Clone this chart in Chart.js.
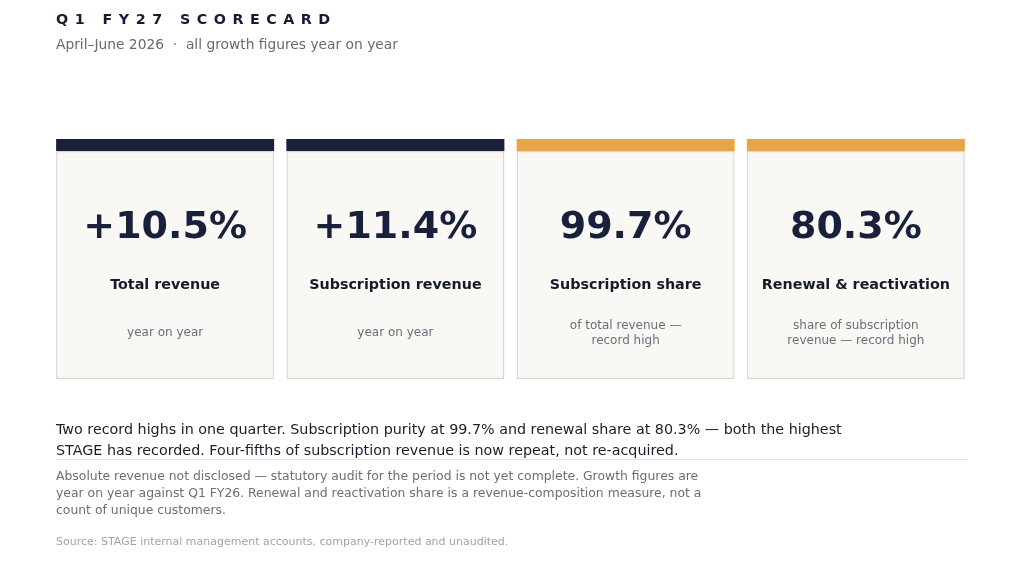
<!DOCTYPE html>
<html>
<head>
<meta charset="utf-8">
<script src="https://cdn.jsdelivr.net/npm/chart.js@4.4.1/dist/chart.umd.min.js"></script>
<style>
  html, body { margin: 0; padding: 0; background: #ffffff; }
  body { width: 1024px; height: 570px; position: relative; overflow: hidden; font-family: "DejaVu Sans", sans-serif; }
  #wrap { position: absolute; left: 0; top: 0; width: 1024px; height: 570px; }
  .abs { position: absolute; left: 56px; white-space: nowrap; }
  #title { top: 11px; font-size: 14.3px; font-weight: bold; letter-spacing: 6.5px; color: #161c33; }
  #subtitle { top: 36px; font-size: 13.8px; color: #666a73; }
  #para { top: 419px; font-size: 14.3px; line-height: 21px; color: #1a1d2b; }
  #rule { position: absolute; left: 56px; top: 459px; width: 912px; height: 1px; background: #e3e3e3; }
  #notes { top: 467px; font-size: 12.4px; line-height: 17px; color: #6b6e76; }
  #source { top: 535px; font-size: 11px; color: #a3a3a3; }
</style>
</head>
<body>
<div id="wrap"><canvas id="c" width="1024" height="570"></canvas></div>
<div id="title" class="abs">Q1 FY27 SCORECARD</div>
<div id="subtitle" class="abs">April–June 2026 &nbsp;·&nbsp; all growth figures year on year</div>
<div id="para" class="abs">Two record highs in one quarter. Subscription purity at 99.7% and renewal share at 80.3% — both the highest<br>STAGE has recorded. Four-fifths of subscription revenue is now repeat, not re-acquired.</div>
<div id="rule"></div>
<div id="notes" class="abs">Absolute revenue not disclosed — statutory audit for the period is not yet complete. Growth figures are<br>year on year against Q1 FY26. Renewal and reactivation share is a revenue-composition measure, not a<br>count of unique customers.</div>
<div id="source" class="abs">Source: STAGE internal management accounts, company-reported and unaudited.</div>
<script>
// ---- data ----
const categories = ['Total revenue', 'Subscription revenue', 'Subscription share', 'Renewal & reactivation'];
const values = [10.5, 11.4, 99.7, 80.3];
const kinds = ['growth', 'growth', 'share', 'share'];
const notes = [
  ['year on year'],
  ['year on year'],
  ['of total revenue —', 'record high'],
  ['share of subscription', 'revenue — record high']
];

// ---- styles / layout ----
const NAVY = '#18203b';
const ORANGE = '#e8a545';
const CARD_FILL = '#f9f8f5';
const CARD_BORDER = '#d9d7d2';
const STRIP_FROM = 0.95;

const fmt = (v, k) => (k === 'growth' ? '+' : '') + v.toFixed(1) + '%';
const accent = kinds.map(k => k === 'growth' ? NAVY : ORANGE);

const textPlugin = {
  id: 'cardText',
  afterDatasetsDraw(chart) {
    const ctx = chart.ctx;
    const xs = chart.scales.x, ys = chart.scales.y;
    ctx.save();
    ctx.textAlign = 'center';
    ctx.textBaseline = 'middle';
    categories.forEach((cat, i) => {
      const cx = xs.getPixelForValue(i);
      ctx.fillStyle = NAVY;
      ctx.font = 'bold 38px "DejaVu Sans"';
      ctx.fillText(fmt(values[i], kinds[i]), cx, ys.getPixelForValue(0.63));
      ctx.font = 'bold 14.3px "DejaVu Sans"';
      ctx.fillStyle = '#161a2c';
      ctx.fillText(cat, cx, ys.getPixelForValue(0.39));
      ctx.font = '12px "DejaVu Sans"';
      ctx.fillStyle = '#6b6e76';
      const ln = notes[i];
      const mid = ys.getPixelForValue(0.192);
      const lh = 15;
      ln.forEach((t, j) => {
        ctx.fillText(t, cx, mid + (j - (ln.length - 1) / 2) * lh);
      });
    });
    ctx.restore();
  }
};

new Chart(document.getElementById('c'), {
  type: 'bar',
  data: {
    labels: categories,
    datasets: [
      {
        label: 'card',
        data: categories.map(() => [0, STRIP_FROM]),
        backgroundColor: CARD_FILL,
        borderColor: CARD_BORDER,
        borderWidth: 1.5,
        borderSkipped: false,
        grouped: false,
        categoryPercentage: 1,
        barPercentage: 0.947,
        order: 2
      },
      {
        label: 'accent',
        data: categories.map(() => [STRIP_FROM, 1]),
        backgroundColor: accent,
        borderWidth: 0,
        grouped: false,
        categoryPercentage: 1,
        barPercentage: 0.947,
        order: 1
      }
    ]
  },
  options: {
    responsive: false,
    animation: false,
    devicePixelRatio: 1,
    layout: { padding: { left: 50, right: 53, top: 139, bottom: 191 } },
    plugins: { legend: { display: false }, tooltip: { enabled: false }, title: { display: false } },
    scales: {
      x: { display: false },
      y: { display: false, min: 0, max: 1 }
    }
  },
  plugins: [textPlugin]
});
</script>
</body>
</html>
